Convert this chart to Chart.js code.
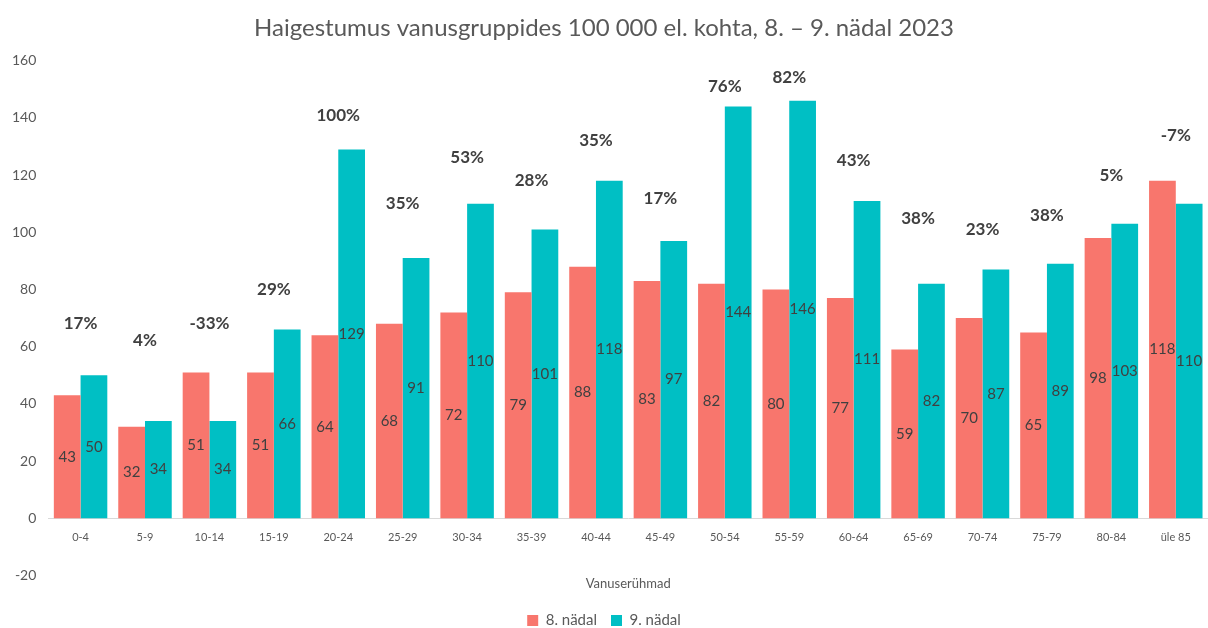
<!DOCTYPE html>
<html>
<head>
<meta charset="utf-8">
<script src="https://cdn.jsdelivr.net/npm/chart.js@4/dist/chart.umd.min.js"></script>
<style>
    html, body { margin: 0; padding: 0; background: #fff; }
    #wrap { width: 1208px; height: 628px; }
</style>
</head>
<body>
<div id="wrap"><canvas id="chart"></canvas></div>
<script>
// age groups and weekly incidence per 100 000
const ageGroups = ['0-4', '5-9', '10-14', '15-19', '20-24', '25-29', '30-34', '35-39', '40-44',
    '45-49', '50-54', '55-59', '60-64', '65-69', '70-74', '75-79', '80-84', 'üle 85'];
const week8 = [43, 32, 51, 51, 64, 68, 72, 79, 88, 83, 82, 80, 77, 59, 70, 65, 98, 118];
const week9 = [50, 34, 34, 66, 129, 91, 110, 101, 118, 97, 144, 146, 111, 82, 87, 89, 103, 110];
// change labels and the level (in chart units) they sit at
const changeLabels = ['17%', '4%', '-33%', '29%', '100%', '35%', '53%', '28%', '35%',
    '17%', '76%', '82%', '43%', '38%', '23%', '38%', '5%', '-7%'];
const changeLevels = [68, 62, 68, 80, 141, 110, 126, 118, 132, 112, 151, 154, 125, 105, 101, 106, 120, 134];
const yTicks = [-20, 0, 20, 40, 60, 80, 100, 120, 140, 160];

const FONT = 'Lato, "Open Sans", sans-serif';

const labelPlugin = {
    id: 'labels',
    afterDatasetsDraw(chart) {
        const ctx = chart.ctx;
        ctx.save();
        ctx.textAlign = 'center';
        ctx.textBaseline = 'middle';
        ctx.fillStyle = '#404040';
        ctx.font = '15px ' + FONT;
        [0, 1].forEach(di => {
            chart.getDatasetMeta(di).data.forEach((bar, i) => {
                const v = chart.data.datasets[di].data[i];
                ctx.fillText(String(v), bar.x, (bar.y + bar.base) / 2);
            });
        });
        const xs = chart.scales.x, ys = chart.scales.y;
        ctx.font = 'bold 17px ' + FONT;
        changeLabels.forEach((t, i) => {
            ctx.fillText(t, xs.getPixelForValue(i), ys.getPixelForValue(changeLevels[i]));
        });
        ctx.restore();
    }
};

new Chart(document.getElementById('chart'), {
    type: 'bar',
    data: {
        labels: ageGroups,
        datasets: [
            { label: '8. nädal', data: week8, backgroundColor: '#F8766D' },
            { label: '9. nädal', data: week9, backgroundColor: '#00BFC4' }
        ]
    },
    options: {
        responsive: true,
        maintainAspectRatio: false,
        animation: false,
        datasets: { bar: { categoryPercentage: 0.83, barPercentage: 1.0 } },
        layout: { padding: { left: 0, right: 0, top: 0, bottom: -10 } },
        plugins: {
            title: {
                display: true,
                text: 'Haigestumus vanusgruppides 100 000 el. kohta, 8. – 9. nädal 2023',
                color: '#595959',
                font: { family: FONT, size: 24, weight: 'normal' },
                padding: { top: 14, bottom: 18 }
            },
            legend: {
                position: 'bottom',
                labels: {
                    color: '#595959',
                    font: { family: FONT, size: 15 },
                    boxWidth: 11,
                    boxHeight: 11,
                    padding: 14
                }
            },
            tooltip: { enabled: false }
        },
        scales: {
            x: {
                position: { y: 0 },
                grid: { display: false, drawTicks: false },
                border: { display: true, color: '#d9d9d9', width: 1 },
                ticks: { color: '#595959', font: { family: FONT, size: 11 }, padding: 13 }
            },
            x2: {
                type: 'category',
                labels: ageGroups,
                position: 'bottom',
                grid: { display: false, drawTicks: false },
                border: { display: false },
                ticks: { display: false },
                title: {
                    display: true,
                    text: 'Vanuserühmad',
                    color: '#595959',
                    font: { family: FONT, size: 13 },
                    padding: { top: 1, bottom: 7 }
                }
            },
            y: {
                min: -20,
                max: 160,
                afterBuildTicks: axis => { axis.ticks = yTicks.map(v => ({ value: v })); },
                grid: { display: false, drawTicks: false },
                border: { display: false },
                ticks: { color: '#595959', font: { family: FONT, size: 14 }, padding: 12 }
            }
        }
    },
    plugins: [labelPlugin]
});
</script>
</body>
</html>
